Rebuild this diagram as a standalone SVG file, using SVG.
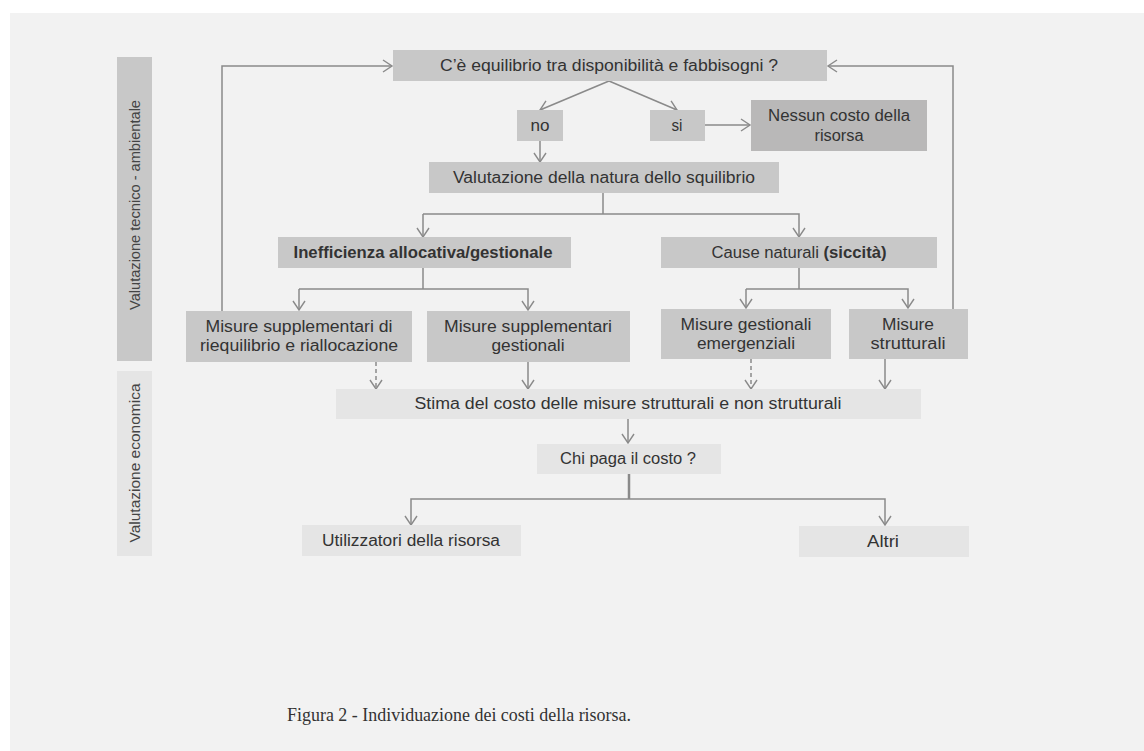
<svg xmlns="http://www.w3.org/2000/svg" width="1144" height="751" viewBox="0 0 1144 751">
<defs>
<marker id="arr" markerUnits="userSpaceOnUse" markerWidth="20" markerHeight="20" viewBox="-10 -10 20 20" refX="0" refY="0" orient="auto">
<path d="M-9,-6 L0,0 L-9,6" fill="none" stroke="#8a8a8a" stroke-width="1.4"/>
</marker>
<style>
.bx{fill:#c8c8c8}
.dk{fill:#b9b8b8}
.lt{fill:#e5e5e5}
.t{font-family:"Liberation Sans",Arial,sans-serif;font-size:16px;fill:#333;text-anchor:middle}
.b{font-weight:bold}
.vt{font-family:"Liberation Sans",Arial,sans-serif;font-size:15px;fill:#444;text-anchor:middle}
.ln{fill:none;stroke:#8a8a8a;stroke-width:1.5}
.ar{marker-end:url(#arr)}
.ds{stroke-dasharray:4 3}
.cap{font-family:"Liberation Serif","Times New Roman",serif;font-size:18px;fill:#333}
</style>
</defs>
<rect x="0" y="0" width="1144" height="751" fill="#ffffff"/>
<rect x="10" y="13" width="1134" height="738" fill="#f2f2f2"/>

<g id="lab1"><rect class="bx" x="117" y="57" width="35" height="304"/>
<text class="vt" transform="translate(140,205) rotate(-90)" textLength="210" lengthAdjust="spacingAndGlyphs">Valutazione tecnico - ambientale</text></g>
<g id="lab2"><rect class="lt" x="117" y="371" width="35" height="185"/>
<text class="vt" transform="translate(140,463) rotate(-90)" textLength="159" lengthAdjust="spacingAndGlyphs">Valutazione  economica</text></g>

<g id="connectors">
<path class="ln ar" d="M222,311 V66 H392"/>
<path class="ln ar" d="M953,309 V66 H828"/>
<path class="ln ar" d="M609,81 L540,110"/>
<path class="ln ar" d="M609,81 L677,110"/>
<path class="ln ar" d="M705,125 H750"/>
<path class="ln ar" d="M540,141 V162"/>
<path class="ln" d="M603,193 V214"/>
<path class="ln ar" d="M423,214 H799 V237"/>
<path class="ln ar" d="M423,214 V237"/>
<path class="ln" d="M423,268 V289"/>
<path class="ln ar" d="M299,289 H528 V310"/>
<path class="ln ar" d="M299,289 V310"/>
<path class="ln" d="M799,268 V289"/>
<path class="ln ar" d="M746,289 H908 V308"/>
<path class="ln ar" d="M746,289 V308"/>
<path class="ln ar ds" d="M376,362 V389"/>
<path class="ln ar" d="M528,362 V389"/>
<path class="ln ar ds" d="M751,359 V389"/>
<path class="ln ar" d="M885,359 V389"/>
<path class="ln ar" d="M628,419 V443"/>
<path class="ln" d="M629,474 V499" style="stroke-width:2.5"/>
<path class="ln ar" d="M629,499 H411 V525"/>
<path class="ln ar" d="M629,499 H885 V525"/>
</g>

<g id="n_top"><rect class="bx" x="393" y="50" width="434" height="31"/>
<text class="t" x="609" y="71" textLength="338" lengthAdjust="spacingAndGlyphs">C’è equilibrio tra disponibilità e fabbisogni ?</text></g>
<g id="n_no"><rect class="bx" x="517" y="110" width="46" height="31"/>
<text class="t" x="540" y="131" textLength="19" lengthAdjust="spacingAndGlyphs">no</text></g>
<g id="n_si"><rect class="bx" x="650" y="110" width="55" height="31"/>
<text class="t" x="677" y="131" textLength="11" lengthAdjust="spacingAndGlyphs">si</text></g>
<g id="n_nessun"><rect class="dk" x="751" y="100" width="176" height="51"/>
<text class="t" x="839" y="121" textLength="142" lengthAdjust="spacingAndGlyphs">Nessun costo della</text>
<text class="t" x="839" y="141" textLength="49" lengthAdjust="spacingAndGlyphs">risorsa</text></g>
<g id="n_val"><rect class="bx" x="429" y="162" width="350" height="31"/>
<text class="t" x="604" y="183" textLength="302" lengthAdjust="spacingAndGlyphs">Valutazione della natura dello squilibrio</text></g>
<g id="n_ineff"><rect class="bx" x="278" y="237" width="293" height="31"/>
<text class="t b" x="423" y="258" textLength="259" lengthAdjust="spacingAndGlyphs">Inefficienza allocativa/gestionale</text></g>
<g id="n_cause"><rect class="bx" x="661" y="237" width="276" height="31"/>
<text class="t" x="799" y="258" textLength="175" lengthAdjust="spacingAndGlyphs">Cause naturali <tspan class="b">(siccità)</tspan></text></g>
<g id="n_ms1"><rect class="bx" x="186" y="311" width="226" height="51"/>
<text class="t" x="299" y="332" textLength="187" lengthAdjust="spacingAndGlyphs">Misure supplementari di</text>
<text class="t" x="299" y="351" textLength="198" lengthAdjust="spacingAndGlyphs">riequilibrio e riallocazione</text></g>
<g id="n_ms2"><rect class="bx" x="427" y="311" width="203" height="51"/>
<text class="t" x="528" y="332" textLength="168" lengthAdjust="spacingAndGlyphs">Misure supplementari</text>
<text class="t" x="528" y="351" textLength="73" lengthAdjust="spacingAndGlyphs">gestionali</text></g>
<g id="n_mg"><rect class="bx" x="661" y="309" width="170" height="50"/>
<text class="t" x="746" y="330" textLength="131" lengthAdjust="spacingAndGlyphs">Misure gestionali</text>
<text class="t" x="746" y="349" textLength="98" lengthAdjust="spacingAndGlyphs">emergenziali</text></g>
<g id="n_mstr"><rect class="bx" x="849" y="309" width="119" height="50"/>
<text class="t" x="908" y="330" textLength="52" lengthAdjust="spacingAndGlyphs">Misure</text>
<text class="t" x="908" y="349" textLength="75" lengthAdjust="spacingAndGlyphs">strutturali</text></g>
<g id="n_stima"><rect class="lt" x="336" y="389" width="585" height="30"/>
<text class="t" x="628" y="409" textLength="427" lengthAdjust="spacingAndGlyphs">Stima del costo delle misure strutturali e non strutturali</text></g>
<g id="n_chi"><rect class="lt" x="537" y="444" width="184" height="30"/>
<text class="t" x="628" y="464" textLength="136" lengthAdjust="spacingAndGlyphs">Chi paga il costo ?</text></g>
<g id="n_util"><rect class="lt" x="302" y="525" width="219" height="31"/>
<text class="t" x="411" y="546" textLength="178" lengthAdjust="spacingAndGlyphs">Utilizzatori della risorsa</text></g>
<g id="n_altri"><rect class="lt" x="799" y="526" width="170" height="31"/>
<text class="t" x="883" y="547" textLength="32" lengthAdjust="spacingAndGlyphs">Altri</text></g>

<text class="cap" x="287" y="721" textLength="344" lengthAdjust="spacingAndGlyphs">Figura 2 - Individuazione dei costi della risorsa.</text>
</svg>
